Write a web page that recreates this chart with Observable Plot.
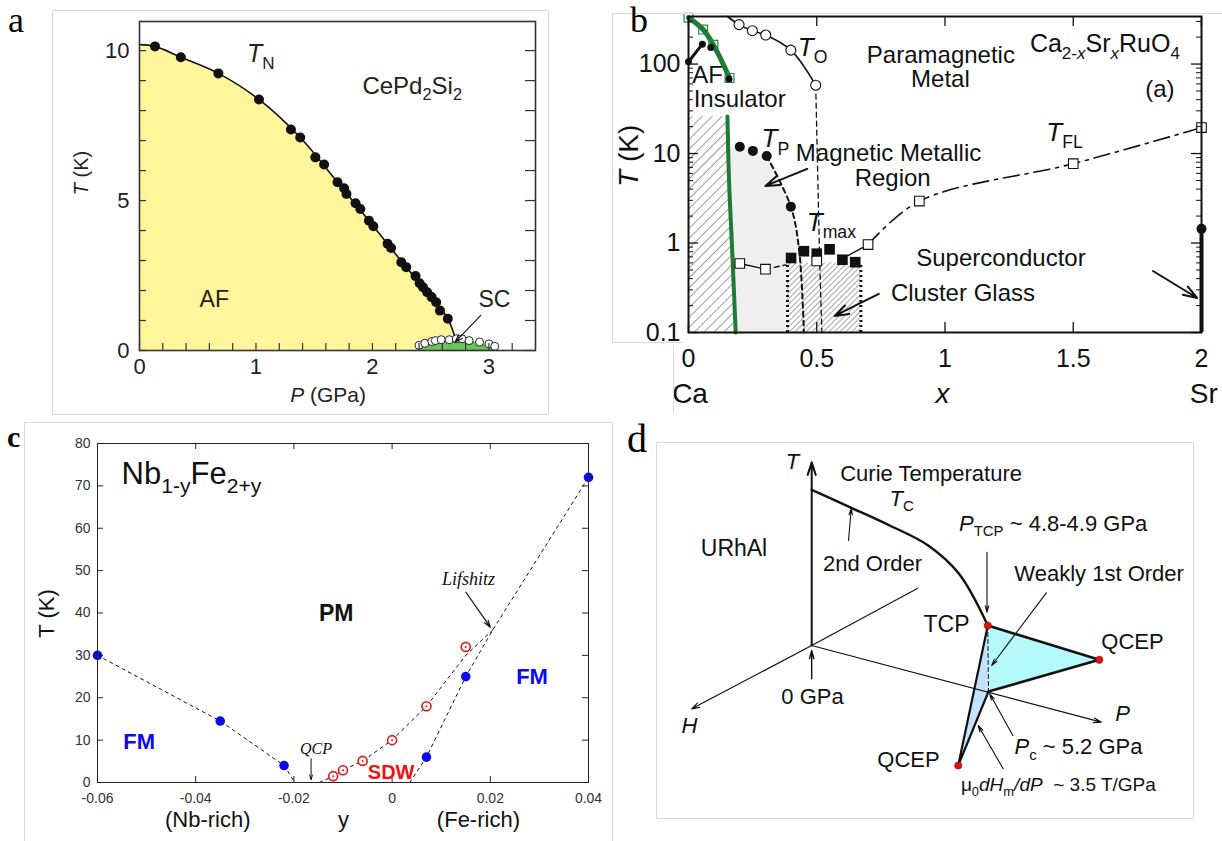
<!DOCTYPE html>
<html>
<head>
<meta charset="utf-8">
<script src="https://cdn.jsdelivr.net/npm/d3@7"></script>
<script src="https://cdn.jsdelivr.net/npm/@observablehq/plot@0.6"></script>
<style>
  html, body { margin: 0; padding: 0; background: #fff; }
  #root { position: relative; width: 1222px; height: 841px; overflow: hidden; background: #fff; }
  .panel { position: absolute; }
  #overlay { position: absolute; left: 0; top: 0; pointer-events: none; }
</style>
</head>
<body>
<div id="root"></div>
<script>
// ================= DATA =================
// ---- Panel a : CePd2Si2 ----
const aTnP = [0.133,0.355,0.677,1.026,1.30,1.38,1.51,1.585,1.70,1.757,1.777,1.855,1.896,1.97,2.008,2.13,2.16,2.248,2.29,2.37,2.405,2.434,2.47,2.508,2.547,2.58,2.647];
const aTnT = [10.14,9.78,9.24,8.37,7.37,7.10,6.44,6.2,5.61,5.41,5.22,4.91,4.72,4.33,4.14,3.56,3.42,2.94,2.78,2.48,2.24,2.11,1.94,1.78,1.61,1.33,1.06];
const aLineP = [0,0.133,0.355,0.677,1.026,1.38,1.70,2.008,2.29,2.508,2.647,2.72];
const aLineT = [10.2,10.14,9.78,9.24,8.37,7.10,5.61,4.14,2.78,1.78,1.06,0.3];
const aScP = [2.40,2.45,2.51,2.54,2.59,2.66,2.72,2.77,2.83,2.92,3.00,3.05];
const aScT = [0.17,0.24,0.30,0.33,0.36,0.36,0.39,0.39,0.33,0.28,0.22,0.14];
const aDomeP = [2.38,2.5,2.65,2.8,2.95,3.07];
const aDomeT = [0,0.26,0.34,0.34,0.22,0];
const aTicksX = [0,1,2,3];
const aTicksY = [0,5,10];
const aMinorX = [0,0.2,0.4,0.6,0.8,1,1.2,1.4,1.6,1.8,2,2.2,2.4,2.6,2.8,3,3.2];
const aMinorY = [0,1,2,3,4,5,6,7,8,9,10];

// ---- Panel b : Ca2-xSrxRuO4 ----
const bGreenUpX = [0,0.057,0.097,0.16];
const bGreenUpT = [330,243,164,70];
const bGreenLoX = [0.152,0.158,0.169,0.184];
const bGreenLoT = [26,5,1,0.1];
const bAfX = [0,0.054,0.087,0.158];
const bAfT = [106,167,153,68];
const bToLineX = [0.152,0.197,0.249,0.301,0.399,0.496];
const bToLineT = [340,276,236,211,143,58];
const bToX = [0.197,0.249,0.301,0.399,0.496];
const bToT = [276,236,211,143,58];
const bToDashX = [0.496,0.511,0.52];
const bToDashT = [58,0.7,0.1];
const bTpX = [0.2,0.251,0.305,0.399];
const bTpT = [11.9,10.7,9.4,2.55];
const bTpDashX = [0.305,0.399,0.431,0.45];
const bTpDashT = [9.4,2.55,0.85,0.1];
const bTmaxX = [0.4,0.45,0.5,0.55,0.6,0.65];
const bTmaxT = [0.68,0.81,0.76,0.85,0.65,0.61];
const bTflX = [0.2,0.3,0.5,0.7,0.9,1.5,2.0];
const bTflT = [0.59,0.51,0.63,0.96,2.94,7.7,19.5];
const bTflLowX = [0.2,0.3];
const bTflLowT = [0.59,0.51];
const bTflLowDashX = [0.3,0.38];
const bTflLowDashT = [0.51,0.57];
const bTflHighX = [0.62,0.7];
const bTflHighT = [0.72,0.96];
const bTflDashX = [0.7,0.9,1.5,2.0];
const bTflDashT = [0.96,2.94,7.7,19.5];
const bScX = [2];
const bScT = [1.44];
const bMmT  = [0.1,0.7,0.85,2.55,9.4,10.7,11.9];
const bMmXl = [0.184,0.174,0.173,0.166,0.160,0.159,0.159];
const bMmXr = [0.386,0.386,0.431,0.399,0.305,0.251,0.2];
const bCgX = [0.386,0.672];
const bCgT = [0.1,0.6];
const bTicksX = [0,0.5,1,1.5,2];
const bTicksY = [0.1,1,10,100];
const bMinorY = [0.2,0.3,0.4,0.5,0.6,0.7,0.8,0.9,2,3,4,5,6,7,8,9,20,30,40,50,60,70,80,90,200,300];

// ---- Panel c : Nb1-yFe2+y ----
const cFmY = [-0.06,-0.035,-0.022,0.007,0.015,0.04];
const cFmT = [30,14.5,4,6,25,72];
const cSdwY = [-0.012,-0.010,-0.006,0,0.007,0.015];
const cSdwT = [1.5,2.9,5.1,10,18,32];
const cLeftY = [-0.06,-0.035,-0.022,-0.0198];
const cLeftT = [30,14.5,4,0];
const cRightY = [0.0036,0.007,0.015,0.0205,0.04];
const cRightT = [0,6,25,36,72];
const cSdwLineY = [-0.0148,-0.012,-0.010,-0.006,0,0.007,0.015,0.0205];
const cSdwLineT = [0,1.5,2.9,5.1,10,18,30,36];
const cTicksX = [-0.06,-0.04,-0.02,0,0.02,0.04];
const cTicksY = [0,10,20,30,40,50,60,70,80];

// ---- Panel d : URhAl schematic (schematic P-H-T projection units) ----
const dTEnd = [0,183.3];
const dHEnd = [-120,-63.3];
const dPEnd = [289.6,-76.7];
const dBackEnd = [106.1,57.3];
const dCurieX = [0,39.6,78,116.5,147.3,176.1];
const dCurieY = [155.7,137.7,120,100,71.7,20];
const dTcp = [176.1,20];
const dQcepR = [287.6,-14.3];
const dPc = [176.8,-46];
const dQcepB = [146.5,-120];

// ================= HELPERS =================
const SANS = "'Liberation Sans', Arial, Helvetica, sans-serif";
const SERIF = "'Liberation Serif', 'Times New Roman', serif";
const NS = "http://www.w3.org/2000/svg";
const zip = (xs, ys) => xs.map((x, i) => ({x, y: ys[i]}));
const lab = (s, x, y, o = {}) => Plot.text([s], {x: () => x, y: () => y, text: d => d, lineAnchor: "bottom", ...o});
const arr = (x1, y1, x2, y2, o = {}) => Plot.arrow([0], {x1: () => x1, y1: () => y1, x2: () => x2, y2: () => y2, stroke: "#111", strokeWidth: 1.3, headLength: 11, headAngle: 38, ...o});

function richText(svg) {
  svg.querySelectorAll("text").forEach(el => {
    const s = el.textContent;
    if (!/[*_]/.test(s) || el.querySelector("tspan")) return;
    const parts = []; let ital = false, sub = false, buf = "";
    const flush = () => { if (buf) parts.push({t: buf, ital, sub}); buf = ""; };
    for (let i = 0; i < s.length; i++) {
      const c = s[i];
      if (c === "*") { flush(); ital = !ital; }
      else if (c === "_" && s[i + 1] === "{") { flush(); sub = true; i++; }
      else if (c === "}" && sub) { flush(); sub = false; }
      else buf += c;
    }
    flush();
    el.textContent = "";
    let shifted = false;
    parts.forEach(p => {
      const ts = document.createElementNS(NS, "tspan");
      ts.textContent = p.t;
      if (p.ital) ts.setAttribute("font-style", "italic");
      if (p.sub) {
        ts.setAttribute("font-size", "68%");
        if (!shifted) { ts.setAttribute("dy", "0.4em"); shifted = true; }
      } else if (shifted) { ts.setAttribute("dy", "-0.272em"); shifted = false; }
      el.appendChild(ts);
    });
  });
}

const root = document.getElementById("root");
function place(svg, left, top) {
  const d = document.createElement("div");
  d.className = "panel";
  d.style.left = left + "px"; d.style.top = top + "px";
  d.appendChild(svg);
  root.appendChild(d);
  richText(svg);
  return svg;
}
const baseStyle = (fs, color = "#222") => ({fontFamily: SANS, fontSize: fs + "px", color, background: "transparent", overflow: "visible"});

// ================= PANEL A =================
{
  const W = 548, H = 415, mL = 139, mR = 13, mT = 21, mB = 65;
  const fw = W - mL - mR, fh = H - mT - mB;
  const svg = Plot.plot({
    width: W, height: H, marginLeft: mL, marginRight: mR, marginTop: mT, marginBottom: mB,
    x: {domain: [0, 3.4]}, y: {domain: [0, 10.97]},
    style: baseStyle(22),
    marks: [
      Plot.areaY(zip(aLineP, aLineT), {x: "x", y: "y", fill: "#fff59a", curve: "catmull-rom"}),
      Plot.areaY(zip(aDomeP, aDomeT), {x: "x", y: "y", fill: "#6cc35c", curve: "catmull-rom"}),
      Plot.line(zip(aLineP, aLineT), {x: "x", y: "y", stroke: "#111", strokeWidth: 1.6, curve: "catmull-rom"}),
      Plot.dot(zip(aTnP, aTnT), {x: "x", y: "y", r: 5, fill: "#111"}),
      Plot.dot(zip(aScP, aScT), {x: "x", y: "y", r: 4, fill: "#fff", stroke: "#111", strokeWidth: 0.9}),
      arr(2.93, 1.17, 2.71, 0.28, {strokeWidth: 1.1}),
      Plot.frame({stroke: "#333", strokeWidth: 1.6}),
      Plot.ruleX(aMinorX, {x: d => d, insetTop: fh - 7, stroke: "#333", strokeWidth: 1.2}),
      Plot.ruleY(aMinorY, {y: d => d, insetRight: fw - 7, stroke: "#333", strokeWidth: 1.2}),
      Plot.ruleY(aMinorY, {y: d => d, insetLeft: fw - 10, stroke: "#333", strokeWidth: 1.2}),
      Plot.axisX(aTicksX, {tickSize: 0, tickPadding: 8, label: null, tickFormat: d => String(d)}),
      Plot.axisY(aTicksY, {tickSize: 0, tickPadding: 10, label: null, tickFormat: d => String(d)}),
      lab("*T*_{N}", 0.923, 9.61, {textAnchor: "start", fontSize: 25}),
      lab("CePd_{2}Si_{2}", 1.914, 8.56, {textAnchor: "start", fontSize: 24}),
      lab("AF", 0.642, 1.44, {fontSize: 23}),
      lab("SC", 3.047, 1.44, {fontSize: 23}),
      lab("*T* (K)", -0.498, 5.92, {rotate: -90, lineAnchor: "middle", fontSize: 20}),
      lab("*P* (GPa)", 1.619, -1.72, {fontSize: 21})
    ]
  });
  place(svg, 0, 0);
}

// ================= PANEL B =================
{
  const W = 622, H = 415, mL = 88, mR = 21, mT = 16, mB = 83;
  const fw = W - mL - mR, fh = H - mT - mB;
  const mm = bMmT.map((t, i) => ({T: t, xl: bMmXl[i], xr: bMmXr[i]}));
  const svg = Plot.plot({
    width: W, height: H, marginLeft: mL, marginRight: mR, marginTop: mT, marginBottom: mB,
    x: {domain: [0, 2]}, y: {type: "log", domain: [0.1, 340]},
    style: baseStyle(25, "#111"),
    marks: [
      Plot.areaX(mm, {y: "T", x1: "xl", x2: "xr", fill: "#efefef"}),
      Plot.areaX(zip(bGreenLoX, bGreenLoT), {y: "y", x1: 0, x2: "x", fill: "url(#hatchAF)"}),
      Plot.rect([0], {x1: () => bCgX[0], x2: () => bCgX[1], y1: () => bCgT[0], y2: () => bCgT[1], fill: "url(#hatchCG)"}),
      Plot.ruleX(bCgX, {x: d => d, y1: bCgT[0], y2: bCgT[1], stroke: "#111", strokeWidth: 3, strokeDasharray: "2,3"}),
      Plot.line(zip(bToDashX, bToDashT), {x: "x", y: "y", stroke: "#111", strokeWidth: 1.3, strokeDasharray: "5,4"}),
      Plot.line(zip(bTpDashX, bTpDashT), {x: "x", y: "y", stroke: "#111", strokeWidth: 2, strokeDasharray: "5,4", curve: "catmull-rom"}),
      Plot.line(zip(bGreenUpX, bGreenUpT), {x: "x", y: "y", stroke: "#1e7a34", strokeWidth: 5, curve: "catmull-rom"}),
      Plot.line(zip(bGreenLoX, bGreenLoT), {x: "x", y: "y", stroke: "#1e7a34", strokeWidth: 4, curve: "catmull-rom"}),
      Plot.dot(zip(bGreenUpX, bGreenUpT), {x: "x", y: "y", symbol: "square", r: 5, stroke: "#2a8a3c", strokeWidth: 1.2, fill: "none"}),
      Plot.line(zip(bAfX.slice(0, 2), bAfT.slice(0, 2)), {x: "x", y: "y", stroke: "#111", strokeWidth: 3}),
      Plot.dot(zip(bAfX, bAfT), {x: "x", y: "y", r: 3.5, fill: "#111"}),
      Plot.line(zip(bToLineX, bToLineT), {x: "x", y: "y", stroke: "#111", strokeWidth: 1.6, curve: "catmull-rom"}),
      Plot.dot(zip(bToX, bToT), {x: "x", y: "y", r: 5, fill: "#fff", stroke: "#111", strokeWidth: 1.1}),
      Plot.dot(zip(bTpX, bTpT), {x: "x", y: "y", r: 5, fill: "#111"}),
      Plot.line(zip(bTflLowX, bTflLowT), {x: "x", y: "y", stroke: "#111", strokeWidth: 1.4}),
      Plot.line(zip(bTflLowDashX, bTflLowDashT), {x: "x", y: "y", stroke: "#111", strokeWidth: 1.4, strokeDasharray: "5,4"}),
      Plot.line(zip(bTflHighX, bTflHighT), {x: "x", y: "y", stroke: "#111", strokeWidth: 1.4}),
      Plot.line(zip(bTflDashX, bTflDashT), {x: "x", y: "y", stroke: "#111", strokeWidth: 1.6, strokeDasharray: "16,6,3,6", curve: "catmull-rom"}),
      Plot.dot(zip(bTmaxX, bTmaxT), {x: "x", y: "y", symbol: "square", r: 6, fill: "#111"}),
      Plot.dot(zip(bTflX, bTflT), {x: "x", y: "y", symbol: "square", r: 5.4, fill: "#fff", stroke: "#111", strokeWidth: 1.1}),
      Plot.ruleX(bScX, {x: d => d, y1: 0.1, y2: bScT[0], stroke: "#111", strokeWidth: 4}),
      Plot.dot(zip(bScX, bScT), {x: "x", y: "y", r: 5, fill: "#111"}),
      arr(0.463, 6.74, 0.300, 4.35, {strokeWidth: 2}),
      arr(1.811, 0.487, 1.983, 0.243, {strokeWidth: 2}),
      arr(0.742, 0.27, 0.570, 0.153, {strokeWidth: 2}),
      Plot.frame({stroke: "#111", strokeWidth: 2}),
      Plot.ruleY(bTicksY, {y: d => d, insetRight: fw - 10, stroke: "#111", strokeWidth: 1.3}),
      Plot.ruleY(bMinorY, {y: d => d, insetRight: fw - 5, stroke: "#111", strokeWidth: 1}),
      Plot.ruleY(bTicksY, {y: d => d, insetLeft: fw - 10, stroke: "#111", strokeWidth: 1.3}),
      Plot.ruleY(bMinorY, {y: d => d, insetLeft: fw - 5, stroke: "#111", strokeWidth: 1}),
      Plot.ruleX(bTicksX, {x: d => d, insetBottom: fh - 10, stroke: "#111", strokeWidth: 1.3}),
      Plot.ruleX(bTicksX, {x: d => d, insetTop: fh - 10, stroke: "#111", strokeWidth: 1.3}),
      Plot.axisX(bTicksX, {tickSize: 0, tickPadding: 17, label: null, tickFormat: d => String(d)}),
      Plot.axisY(bTicksY, {tickSize: 0, tickPadding: 8, label: null, tickFormat: d => String(d)}),
      lab("*T*_{O}", 0.426, 124, {textAnchor: "start", fontSize: 26}),
      lab("Paramagnetic", 0.984, 104, {fontSize: 24}),
      lab("Metal", 0.982, 55.7, {fontSize: 24}),
      lab("Ca_{2-*x*}Sr_{*x*}RuO_{4}", 1.331, 135, {textAnchor: "start", fontSize: 25}),
      lab("(a)", 1.838, 42.3, {fontSize: 24}),
      lab("AF", 0.015, 62.2, {textAnchor: "start", fontSize: 24}),
      lab("Insulator", 0.02, 33.3, {textAnchor: "start", fontSize: 24}),
      lab("*T*_{P}", 0.285, 11.7, {textAnchor: "start", fontSize: 26}),
      lab("Magnetic Metallic", 0.78, 8.28, {fontSize: 24}),
      lab("Region", 0.796, 4.35, {fontSize: 24}),
      lab("*T*_{FL}", 1.395, 13.9, {textAnchor: "start", fontSize: 26}),
      lab("*T*_{max}", 0.461, 1.36, {textAnchor: "start", fontSize: 26}),
      lab("Superconductor", 1.218, 0.555, {fontSize: 24}),
      lab("Cluster Glass", 1.07, 0.225, {fontSize: 24}),
      lab("*T* (K)", -0.23, 9.42, {rotate: -90, lineAnchor: "middle", fontSize: 28}),
      lab("Ca", 0.006, 0.0164, {fontSize: 28}),
      lab("*x*", 0.99, 0.0164, {fontSize: 28}),
      lab("Sr", 2.009, 0.0164, {fontSize: 28})
    ]
  });
  const defs = document.createElementNS(NS, "defs");
  defs.innerHTML =
    '<pattern id="hatchAF" patternUnits="userSpaceOnUse" width="7" height="7" patternTransform="rotate(45)">' +
    '<line x1="0" y1="0" x2="0" y2="7" stroke="#222" stroke-width="0.9"/></pattern>' +
    '<pattern id="hatchCG" patternUnits="userSpaceOnUse" width="4" height="4" patternTransform="rotate(45)">' +
    '<line x1="0" y1="0" x2="0" y2="4" stroke="#222" stroke-width="0.8"/></pattern>';
  svg.insertBefore(defs, svg.firstChild);
  place(svg, 600, 0);
}

// ================= PANEL C =================
{
  const W = 610, H = 421, mL = 97, mR = 22, mT = 23, mB = 59;
  const fw = W - mL - mR, fh = H - mT - mB;
  const BLUE = "#0b0bea", RED = "#ee1111";
  const svg = Plot.plot({
    width: W, height: H, marginLeft: mL, marginRight: mR, marginTop: mT, marginBottom: mB,
    x: {domain: [-0.06, 0.04]}, y: {domain: [0, 80]},
    style: baseStyle(14, "#333"),
    marks: [
      Plot.line(zip(cLeftY, cLeftT), {x: "x", y: "y", stroke: "#111", strokeWidth: 1, strokeDasharray: "3,4"}),
      Plot.line(zip(cRightY, cRightT), {x: "x", y: "y", stroke: "#111", strokeWidth: 1, strokeDasharray: "3,4"}),
      Plot.line(zip(cSdwLineY, cSdwLineT), {x: "x", y: "y", stroke: "#111", strokeWidth: 1, strokeDasharray: "3,4"}),
      Plot.dot(zip(cFmY, cFmT), {x: "x", y: "y", r: 4.8, fill: BLUE}),
      Plot.dot(zip(cSdwY, cSdwT), {x: "x", y: "y", r: 4.5, fill: "#fff", stroke: RED, strokeWidth: 1.6}),
      Plot.dot(zip(cSdwY, cSdwT), {x: "x", y: "y", r: 1, fill: RED}),
      Plot.frame({stroke: "#222", strokeWidth: 1}),
      Plot.ruleX(cTicksX, {x: d => d, insetTop: fh - 6, stroke: "#222"}),
      Plot.ruleX(cTicksX, {x: d => d, insetBottom: fh - 6, stroke: "#222"}),
      Plot.ruleY(cTicksY, {y: d => d, insetRight: fw - 6, stroke: "#222"}),
      Plot.ruleY(cTicksY, {y: d => d, insetLeft: fw - 6, stroke: "#222"}),
      Plot.axisX(cTicksX, {tickSize: 0, tickPadding: 11, label: null, tickFormat: d => d === 0 ? "0" : d.toFixed(2)}),
      Plot.axisY(cTicksY, {tickSize: 0, tickPadding: 7, label: null}),
      arr(-0.0165, 5.65, -0.0165, 0.7, {strokeWidth: 1, headLength: 7, headAngle: 35}),
      arr(0.01504, 44.9, 0.0200, 36.65, {strokeWidth: 1.2, headLength: 9, headAngle: 35}),
      lab("Nb_{1-y}Fe_{2+y}", -0.0551, 70.4, {textAnchor: "start", fontSize: 31, fill: "#111"}),
      lab("PM", -0.0114, 38.2, {fontSize: 23, fontWeight: "bold", fill: "#111"}),
      lab("FM", -0.0515, 8.0, {fontSize: 22, fontWeight: "bold", fill: BLUE}),
      lab("FM", 0.0285, 23.3, {fontSize: 22, fontWeight: "bold", fill: BLUE}),
      lab("SDW", -0.0002, 0.94, {fontSize: 20, fontWeight: "bold", fill: RED}),
      lab("QCP", -0.0155, 6.83, {fontSize: 16, fontFamily: SERIF, fontStyle: "italic", fill: "#111"}),
      lab("Lifshitz", 0.01555, 46.7, {fontSize: 18, fontFamily: SERIF, fontStyle: "italic", fill: "#111"}),
      lab("T (K)", -0.0702, 39.9, {rotate: -90, lineAnchor: "middle", fontSize: 22, fill: "#111"}),
      lab("(Nb-rich)", -0.03754, -10.5, {fontSize: 22, fill: "#111"}),
      lab("y", -0.0099, -10.5, {fontSize: 22, fill: "#111"}),
      lab("(Fe-rich)", 0.01758, -10.5, {fontSize: 22, fill: "#111"})
    ]
  });
  place(svg, 0, 420);
}

// ================= PANEL D =================
{
  const W = 602, H = 411;
  const pt = a => ({x: a[0], y: a[1]});
  const O = [0, 0];
  const cyanTri = [dTcp, dQcepR, dPc, dTcp].map(pt);
  const blueTri = [dTcp, dPc, dQcepB, dTcp].map(pt);
  const svg = Plot.plot({
    width: W, height: H, margin: 0,
    x: {domain: [-191.2, 410.8], axis: null}, y: {domain: [-196, 215], axis: null},
    style: baseStyle(22, "#111"),
    marks: [
      Plot.line(cyanTri, {x: "x", y: "y", fill: "#b5fafa", stroke: "none"}),
      Plot.line(blueTri, {x: "x", y: "y", fill: "#c6e2fb", stroke: "none"}),
      arr(O[0], O[1], dHEnd[0], dHEnd[1], {strokeWidth: 1.2, headLength: 10, headAngle: 35}),
      arr(O[0], O[1], dPEnd[0], dPEnd[1], {strokeWidth: 1.2, headLength: 10, headAngle: 35}),
      Plot.line([O, dBackEnd].map(pt), {x: "x", y: "y", stroke: "#111", strokeWidth: 1.1}),
      arr(O[0], O[1], dTEnd[0], dTEnd[1], {strokeWidth: 2, headLength: 10, headAngle: 35}),
      Plot.line(zip(dCurieX, dCurieY), {x: "x", y: "y", stroke: "#111", strokeWidth: 2.4, curve: "catmull-rom"}),
      Plot.line([dTcp, dPc].map(pt), {x: "x", y: "y", stroke: "#111", strokeWidth: 1, strokeDasharray: "4,3"}),
      Plot.line([dTcp, dQcepR, dPc].map(pt), {x: "x", y: "y", stroke: "#111", strokeWidth: 2.6}),
      Plot.line([dTcp, dQcepB, dPc].map(pt), {x: "x", y: "y", stroke: "#111", strokeWidth: 2.2}),
      Plot.dot([dTcp, dQcepR, dQcepB].map(pt), {x: "x", y: "y", r: 3.6, fill: "#e01010", stroke: "#900", strokeWidth: 0.6}),
      arr(36.8, 105, 39.6, 137, {strokeWidth: 1.1, headLength: 9, headAngle: 30}),
      arr(175.3, 93.3, 175.3, 33.3, {strokeWidth: 1.1, headLength: 9, headAngle: 30}),
      arr(234.6, 52.7, 180, -20, {strokeWidth: 1.1, headLength: 9, headAngle: 30}),
      arr(0, -33.3, 0, -5, {strokeWidth: 1.4, headLength: 9, headAngle: 30}),
      arr(201.1, -90, 178, -48.3, {strokeWidth: 1.1, headLength: 9, headAngle: 30}),
      arr(191.5, -123.3, 166.5, -80, {strokeWidth: 1.1, headLength: 9, headAngle: 30}),
      lab("Curie Temperature", 119.4, 165, {fontSize: 22}),
      lab("*T*_{C}", 77.8, 140, {textAnchor: "start", fontSize: 22}),
      lab("URhAl", -77.7, 90, {fontSize: 23}),
      lab("2nd Order", 60.8, 75, {fontSize: 22}),
      lab("*P*_{TCP} ~ 4.8-4.9 GPa", 147.3, 115, {textAnchor: "start", fontSize: 22}),
      lab("Weakly 1st Order", 287.4, 65, {fontSize: 22}),
      lab("TCP", 134.8, 13.3, {fontSize: 23}),
      lab("QCEP", 320.8, -3.3, {fontSize: 22}),
      lab("0 GPa", 0.8, -58.3, {fontSize: 22}),
      lab("*P*_{c} ~ 5.2 GPa", 202.8, -108.3, {textAnchor: "start", fontSize: 22}),
      lab("QCEP", 96.8, -121.7, {fontSize: 22}),
      lab("μ_{0}*dH*_{m}*/dP*  ~ 3.5 T/GPa", 149.2, -145, {textAnchor: "start", fontSize: 19}),
      lab("*T*", -19.2, 183.3, {lineAnchor: "middle", fontSize: 22}),
      lab("*H*", -122.2, -80, {lineAnchor: "middle", fontSize: 22}),
      lab("*P*", 310.8, -68.3, {lineAnchor: "middle", fontSize: 22})
    ]
  });
  place(svg, 620, 430);
}

// ================= OVERLAY: panel frames & letters =================
{
  const ov = document.createElementNS(NS, "svg");
  ov.setAttribute("id", "overlay");
  ov.setAttribute("width", 1222); ov.setAttribute("height", 841);
  const segs = [
    [52.5,10.5,548.5,10.5],[52.5,10.5,52.5,414.5],[548.5,10.5,548.5,414.5],[52.5,414.5,548.5,414.5],
    [612.5,13.5,1222,13.5],[612.5,13.5,612.5,342.5],[612.5,342.5,683,342.5],[673.5,344,673.5,413.5],
    [24.5,422.5,612.5,422.5],[24.5,422.5,24.5,841],[612.5,422.5,612.5,841],
    [656.5,442.5,1193.5,442.5],[656.5,442.5,656.5,818.5],[1193.5,442.5,1193.5,818.5],[656.5,818.5,1193.5,818.5]
  ];
  let html = segs.map(s => `<line x1="${s[0]}" y1="${s[1]}" x2="${s[2]}" y2="${s[3]}" stroke="#dadada" stroke-width="1"/>`).join("");
  html += `<g font-family="${SERIF.replace(/"/g, "")}" fill="#000">` +
    `<text x="8" y="32" font-size="36">a</text>` +
    `<text x="630" y="32" font-size="36">b</text>` +
    `<text x="7" y="447" font-size="30" font-weight="bold">c</text>` +
    `<text x="627" y="452" font-size="40">d</text></g>`;
  ov.innerHTML = html;
  root.appendChild(ov);
}
</script>
</body>
</html>
